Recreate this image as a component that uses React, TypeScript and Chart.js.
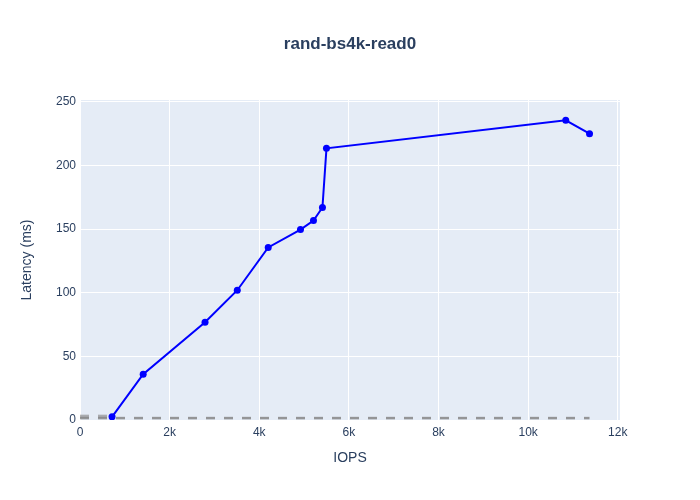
import React, { useEffect, useRef } from "react";
import { Chart, registerables } from "chart.js";

Chart.register(...registerables);

const iops = [715, 1410, 2790, 3510, 4200, 4920, 5210, 5410, 5500, 10840, 11370];
const latency = [2.5, 36, 76.8, 102, 135.6, 149.7, 156.7, 167, 213.5, 235.5, 225];
const refIops = [0, 11370];
const refLatency = [1.5, 1.5];
const lowIops = [0, 715];
const lowLatency = [3, 3];
const xTicks = [0, 2000, 4000, 6000, 8000, 10000, 12000];
const yTicks = [0, 50, 100, 150, 200, 250];
const titleText = "rand-bs4k-read0";

const FONT = "'Liberation Sans', Arial, sans-serif";
const TXT = "#2a3f5f";

const bgPlugin = {
  id: "bgPlugin",
  beforeDraw(chart: any) {
    const { ctx, chartArea } = chart;
    ctx.save();
    ctx.fillStyle = "#e5ecf6";
    ctx.fillRect(chartArea.left, chartArea.top, chartArea.right - chartArea.left, chartArea.bottom - chartArea.top);
    ctx.restore();
  },
  afterDraw(chart: any) {
    const { ctx } = chart;
    ctx.save();
    ctx.fillStyle = TXT;
    ctx.font = `bold 17px ${FONT}`;
    ctx.textAlign = "center";
    ctx.textBaseline = "middle";
    ctx.fillText(titleText, 350, 44);
    ctx.restore();
  },
};

export default function App() {
  const ref = useRef<HTMLCanvasElement>(null);
  useEffect(() => {
    const chart = new Chart(ref.current!, {
      type: "scatter",
      data: {
        datasets: [
          {
            data: refIops.map((x, i) => ({ x, y: refLatency[i] })),
            showLine: true,
            borderColor: "rgba(128,128,128,0.8)",
            borderWidth: 2.5,
            borderDash: [9, 9],
            pointRadius: 0,
          },
          {
            data: lowIops.map((x, i) => ({ x, y: lowLatency[i] })),
            showLine: true,
            borderColor: "rgba(128,128,128,0.6)",
            borderWidth: 3,
            borderDash: [9, 9],
            pointRadius: 0,
          },
          {
            data: iops.map((x, i) => ({ x, y: latency[i] })),
            showLine: true,
            borderColor: "#0000ff",
            backgroundColor: "#0000ff",
            borderWidth: 2,
            pointRadius: 3.5,
            pointBorderWidth: 0,
          },
        ],
      },
      options: {
        animation: false,
        responsive: false,
        maintainAspectRatio: false,
        layout: { padding: { top: 100, left: 0, right: 80, bottom: 0 } },
        plugins: { legend: { display: false }, tooltip: { enabled: false }, title: { display: false } },
        scales: {
          x: {
            type: "linear",
            min: 0,
            max: 12050,
            afterBuildTicks: (s: any) => {
              s.ticks = xTicks.map((v) => ({ value: v }));
            },
            afterFit: (s: any) => {
              s.height = 80;
            },
            grid: { color: "#ffffff", lineWidth: 1, drawTicks: false },
            border: { display: false },
            ticks: {
              color: TXT,
              font: { family: FONT, size: 12 },
              padding: 5,
              maxRotation: 0,
              callback: (v: any) => (v === 0 ? "0" : `${v / 1000}k`),
            },
            title: {
              display: true,
              text: "IOPS",
              color: TXT,
              font: { family: FONT, size: 14 },
              padding: { top: 0, bottom: 33 },
            },
          },
          y: {
            type: "linear",
            min: 0,
            max: 251.5,
            afterBuildTicks: (s: any) => {
              s.ticks = yTicks.map((v) => ({ value: v }));
            },
            afterFit: (s: any) => {
              s.width = 80;
            },
            grid: { color: "#ffffff", lineWidth: 1, drawTicks: false },
            border: { display: false },
            ticks: {
              color: TXT,
              font: { family: FONT, size: 12 },
              padding: 4,
            },
            title: {
              display: true,
              text: "Latency (ms)",
              color: TXT,
              font: { family: FONT, size: 14 },
              padding: { top: 19, bottom: 0 },
            },
          },
        },
      },
      plugins: [bgPlugin],
    } as any);
    return () => chart.destroy();
  }, []);
  return (
    <div style={{ position: "fixed", left: 0, top: 0, width: 700, height: 500, background: "#fff" }}>
      <canvas ref={ref} width={700} height={500} style={{ width: 700, height: 500 }} />
    </div>
  );
}
